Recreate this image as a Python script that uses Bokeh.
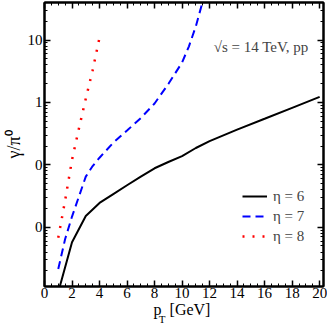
import math
from bokeh.plotting import figure
from bokeh.models import Range1d, FixedTicker, LinearAxis, LogAxis, Label
from bokeh.embed import file_html
from bokeh.resources import INLINE

# ---- data ----
pt_eta6 = [1.0, 2.0, 3.0, 4.0, 5.0, 6.0, 7.0, 8.0, 9.0, 10.0, 11.0, 12.0, 14.0, 16.0, 18.0, 20.0]
ratio_eta6 = [0.00091, 0.00575, 0.0151, 0.0245, 0.034, 0.047, 0.0646, 0.088, 0.111, 0.138,
              0.186, 0.240, 0.367, 0.548, 0.82, 1.23]

pt_eta7 = [1.0, 1.5, 2.0, 2.5, 3.0, 3.5, 4.0, 5.0, 6.0, 7.0, 8.0, 9.0, 10.0, 10.5, 11.0, 11.5]
ratio_eta7 = [0.00214, 0.00646, 0.0148, 0.0309, 0.0646, 0.0955, 0.130, 0.226, 0.355, 0.562,
              0.962, 1.97, 4.37, 7.94, 16.6, 41.7]

pt_eta8 = [1.0, 1.5, 2.0, 2.5, 3.0, 3.5, 4.0]
ratio_eta8 = [0.00676, 0.0269, 0.120, 0.380, 1.148, 3.27, 10.96]

x_major = [0, 2, 4, 6, 8, 10, 12, 14, 16, 18, 20]
x_minor = [i * 0.5 for i in range(0, 41)]
y_major = [0.01, 0.1, 1, 10]
y_major_labels = {0.01: "0", 0.1: "0", 1: "1", 10: "10"}
y_minor = [k * 10.0 ** e for e in range(-3, 2) for k in range(2, 10)]

series_labels = ["η = 6", "η = 7", "η = 8"]
note_text = "√s = 14 TeV, pp"

FONT = "Liberation Serif"
NB = "\u00a0"

p = figure(width=327, height=327,
           x_range=Range1d(0, 20.28), y_range=Range1d(0.00112, 40),
           y_axis_type="log", output_backend="svg", toolbar_location=None,
           min_border_left=39, min_border_right=4, min_border_top=2, min_border_bottom=39)
p.grid.visible = False
p.outline_line_color = "black"
p.outline_line_width = 2
p.background_fill_color = "white"


def style_axis(ax, show_labels):
    ax.axis_line_width = 2
    ax.axis_line_color = "black"
    ax.major_tick_in = 6
    ax.major_tick_out = 0
    ax.minor_tick_in = 3
    ax.minor_tick_out = 0
    ax.major_tick_line_width = 1.5
    ax.minor_tick_line_width = 1
    ax.major_label_text_font = FONT
    ax.major_label_text_color = "black"
    ax.axis_label_text_font = FONT
    ax.axis_label_text_font_style = "normal"
    ax.axis_label_text_color = "black"
    if not show_labels:
        ax.major_label_text_font_size = "1px"
        ax.major_label_text_color = None
        ax.major_label_standoff = 0
        ax.axis_label_standoff = 0


xt = FixedTicker(ticks=x_major, minor_ticks=x_minor)
yt = FixedTicker(ticks=y_major, minor_ticks=y_minor)

xa = p.xaxis[0]
xa.ticker = xt
style_axis(xa, True)
xa.major_label_text_font_size = "15px"
xa.major_label_standoff = 1
xa.axis_label = "p" + NB + NB + "[GeV]" + NB
xa.axis_label_text_font_size = "16px"
xa.axis_label_standoff = 0

ya = p.yaxis[0]
ya.ticker = yt
style_axis(ya, True)
ya.major_label_text_font_size = "15px"
ya.major_label_standoff = 2
ya.major_label_overrides = y_major_labels
ya.axis_label = "γ/π⁰"
ya.axis_label_text_font_size = "18px"
ya.axis_label_standoff = 1

# subscript "T" of p_T: a label-only axis stacked under the main x axis
sub = LinearAxis(ticker=FixedTicker(ticks=[]))
sub.axis_line_color = None
sub.major_tick_line_color = None
sub.minor_tick_line_color = None
sub.major_label_text_font_size = "1px"
sub.major_label_text_color = None
sub.major_label_standoff = 0
sub.axis_label = "T" + NB * 16
sub.axis_label_text_font = FONT
sub.axis_label_text_font_style = "normal"
sub.axis_label_text_font_size = "11px"
sub.axis_label_text_color = "black"
sub.axis_label_standoff = -8
p.add_layout(sub, "below")

top = LinearAxis(ticker=xt)
style_axis(top, False)
p.add_layout(top, "above")
right = LogAxis(ticker=yt)
style_axis(right, False)
p.add_layout(right, "right")

p.line(pt_eta6, ratio_eta6, line_color="black", line_width=2, legend_label=series_labels[0])
p.line(pt_eta7, ratio_eta7, line_color="#0000ff", line_width=2, line_dash="8 5",
       legend_label=series_labels[1])
p.line(pt_eta8, ratio_eta8, line_color="#ff0000", line_width=2.5, line_dash="2 8",
       legend_label=series_labels[2])

lg = p.legend[0]
lg.location = (198, 40)
lg.padding = 0
lg.margin = 0
lg.spacing = 0
lg.border_line_alpha = 0
lg.background_fill_alpha = 0
lg.glyph_width = 25
lg.glyph_height = 20
lg.label_height = 20
lg.label_standoff = 6
lg.label_text_font = FONT
lg.label_text_font_size = "15px"

p.add_layout(Label(x=19.2, y=7.7, text=note_text,
                   text_align="right", text_baseline="alphabetic",
                   text_font=FONT, text_font_size="15px"))

open("out.html", "w").write(file_html(p, INLINE))
